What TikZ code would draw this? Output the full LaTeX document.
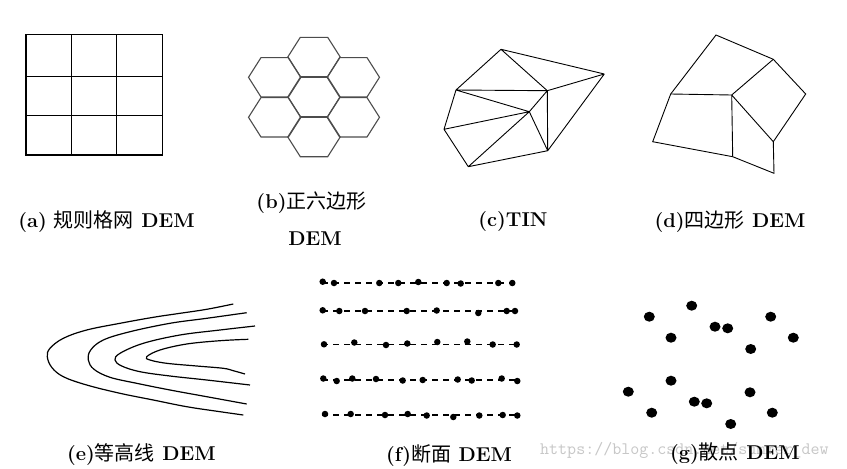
\documentclass[tikz,border=0pt]{standalone}
\usepackage{fontspec}
\newfontfamily\cjk{Noto Sans CJK SC}
\begin{document}
\begin{tikzpicture}[x=1pt,y=-1pt,
  ln/.style={line width=1.1pt,black},
  hexln/.style={line width=1.1pt,black!70},
  thinln/.style={line width=0.9pt,black},
  cline/.style={line width=1.2pt,black},
  prof/.style={line width=1.3pt,black,dash pattern=on 6pt off 5pt},
  pdot/.style={circle,fill=black,inner sep=0pt,minimum size=6.5pt},
  sdot/.style={ellipse,fill=black,inner sep=0pt,minimum width=11pt,minimum height=10pt},
  lab/.style={font=\fontsize{20}{24}\selectfont,inner sep=0pt},
  wm/.style={font=\ttfamily\fontsize{17.5}{20}\selectfont,text=black!22,inner sep=0pt,anchor=west}]
\usetikzlibrary{shapes.geometric}
\useasboundingbox (0,0) rectangle (847,469);
\fill[white] (0,0) rectangle (847,469);

% watermark
\node[wm] (wmk) at (540,450) {https://blog.csdn.net/summer\_dew};

% (a) grid
\draw[ln] (26,34.7) rectangle (162.3,155);
\draw[ln] (71.7,34.7) -- (71.7,155) (116.7,34.7) -- (116.7,155);
\draw[ln] (26,76.7) -- (162.3,76.7) (26,115.7) -- (162.3,115.7);
\node[lab] (la) at (106.5,222) {\bfseries (a)\hspace{7pt}{\cjk\mdseries 规则格网} DEM};

% (b) hexagons
\foreach \cx/\cy in {314/57, 274.7/77.3, 353.3/77.3, 314/97, 274.7/117.3, 353.3/117.3, 314/137}{
  \draw[hexln] (\cx-26.2,\cy) -- (\cx-13.7,\cy-19.7) -- (\cx+13.7,\cy-19.7) -- (\cx+26.2,\cy) -- (\cx+13.7,\cy+19.7) -- (\cx-13.7,\cy+19.7) -- cycle;
}
\node[lab] (lb1) at (311.5,203) {\bfseries (b){\cjk\mdseries 正六边形}};
\node[lab] (lb2) at (315,239) {\bfseries DEM};

% (c) TIN
\coordinate (A) at (501,49.3);
\coordinate (B) at (604.3,74);
\coordinate (C) at (456,90);
\coordinate (D) at (547.3,90.7);
\coordinate (E) at (529.3,111.7);
\coordinate (F) at (444,129.3);
\coordinate (G) at (547.7,150.7);
\coordinate (H) at (468.3,166.7);
\draw[thinln] (A) -- (C) (A) -- (D) (A) -- (B) (D) -- (B) (B) -- (G)
  (C) -- (D) (C) -- (E) (C) -- (F) (F) -- (E) (F) -- (H) (H) -- (E)
  (H) -- (G) (E) -- (G) (E) -- (D) (D) -- (G);
\node[lab] (lc) at (513,222) {\bfseries (c)TIN};

% (d) quadrilaterals
\coordinate (P1) at (716,35);
\coordinate (P2) at (773.3,59.3);
\coordinate (P3) at (805.7,94);
\coordinate (P4) at (773.3,141.7);
\coordinate (P5) at (774,173.3);
\coordinate (P6) at (732.7,156.7);
\coordinate (P7) at (731.7,95);
\coordinate (P8) at (670.7,94);
\coordinate (P9) at (652.7,141.7);
\draw[thinln] (P8) -- (P1) -- (P2) -- (P3) -- (P4) -- (P5) -- (P6) -- (P9) -- cycle;
\draw[thinln] (P8) -- (P7) -- (P6) (P7) -- (P2) (P7) -- (P4);
\node[lab] (ld) at (730,222) {\bfseries (d){\cjk\mdseries 四边形} DEM};

% (e) contours
\draw[cline] plot[smooth,tension=0.6] coordinates {(233.3,304) (206.7,309.3) (180,313.3) (153.3,317.3) (120,323.3) (86.7,330) (63.3,338.3) (50,348.3) (47.3,356.7) (51.7,367.3) (63.3,376.7) (86.7,385) (120,393.3) (153.3,400) (186.7,406.7) (220,411.7) (243.3,415)};
\draw[cline] plot[smooth,tension=0.6] coordinates {(246.7,312.7) (206.7,318.3) (170,323.3) (130,331.7) (103.3,340) (90.7,350) (88.3,360) (94,369.3) (110,377.3) (136.7,383.3) (170,390) (206.7,396.7) (246.7,404)};
\draw[cline] plot[smooth,tension=0.6] coordinates {(255,326) (220,330) (180,335) (143.3,343.3) (120,353.3) (115,360) (121.7,366) (140,371.7) (170,376) (206.7,380) (250,385)};
\draw[cline] plot[smooth,tension=0.6] coordinates {(248.3,339.3) (220,340.7) (186.7,344) (160,350) (146.7,356.7) (150,360) (166.7,363.3) (196.7,366) (223.3,368.3) (233.3,370.7) (245,374)};
\node[lab] (le) at (141.5,455) {\bfseries (e){\cjk\mdseries 等高线} DEM};

% (f) profiles
\draw[prof] (322,283) -- (518,283);
\draw[prof] (322,311) -- (518,311);
\draw[prof] (322,344.5) -- (518,344.5);
\draw[prof] (322,380) -- (518,380);
\draw[prof] (322,415) -- (518,415);
\foreach \x/\y in {322.7/281.7, 334/283, 379.3/283, 398.3/283, 418.3/282, 446.7/283, 460.7/283.5, 498.3/283, 512.3/283}
  \node[pdot] at (\x,\y) {};
\foreach \x/\y in {322.7/310.3, 339.3/311, 365/311, 406.7/311, 436.7/310.5, 478.3/313, 506.7/311, 515/311}
  \node[pdot] at (\x,\y) {};
\foreach \x/\y in {324/344.3, 354.3/342.5, 386/345, 407.3/343.5, 437.3/342, 467.3/341.5, 492.7/344.5, 516.7/344.5}
  \node[pdot] at (\x,\y) {};
\foreach \x/\y in {323.3/378.5, 336.7/381, 352.3/378.5, 376/379, 402.7/380.5, 422.7/380, 457.7/379.5, 471.7/380.5, 501.7/378.5, 517.3/381}
  \node[pdot] at (\x,\y) {};
\foreach \x/\y in {325/414, 350.7/414, 385/415, 407.7/414, 426.7/415.5, 453.3/417, 479.3/415.5, 502.7/415, 517.3/415.5}
  \node[pdot] at (\x,\y) {};
\node[lab] (lf) at (449,456) {\bfseries (f){\cjk\mdseries 断面} DEM};

% (g) scattered points
\foreach \x/\y in {649.3/316.7, 691.7/305.7, 671/337.7, 715/326.7, 727.7/328.3, 770.7/316.7, 793.3/337.7, 750.7/349, 671/380.7, 628.3/391.7, 651.7/412.7, 694.3/401.7, 706.7/403.3, 750/392.3, 772.3/412.7, 730.7/424}
  \node[sdot] at (\x,\y) {};
\node[lab] (lg) at (735,454) {\bfseries (g){\cjk\mdseries 散点} DEM};
\end{tikzpicture}
\end{document}
